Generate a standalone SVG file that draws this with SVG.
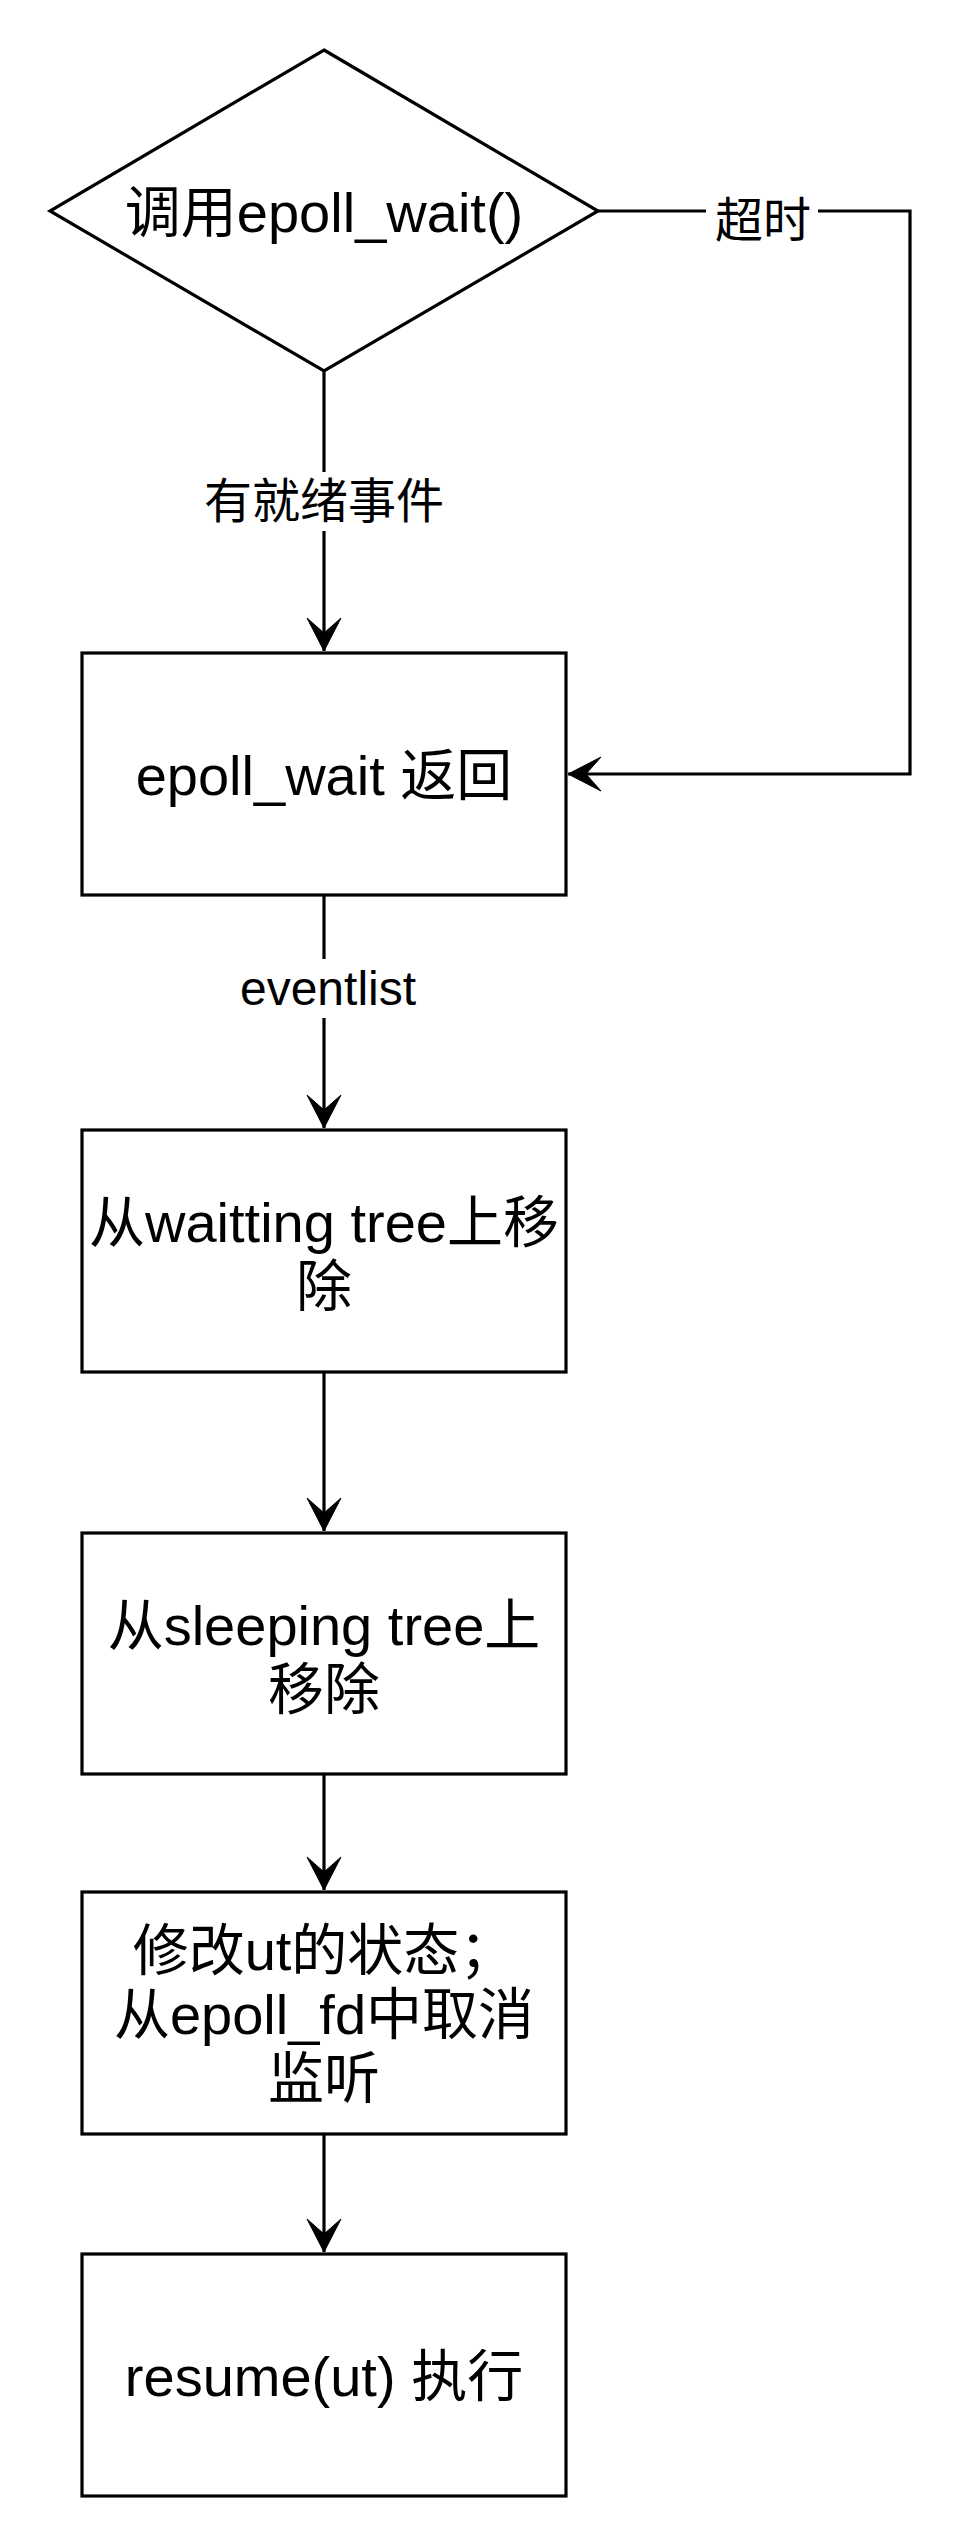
<svg xmlns="http://www.w3.org/2000/svg" width="976" height="2524" viewBox="0 0 976 2524">
  <style>
    .shape { fill: #ffffff; stroke: #000000; stroke-width: 3.2; }
    .edge { fill: none; stroke: #000000; stroke-width: 3.2; }
    .txt { font-family: "Liberation Sans", "Noto Sans CJK SC", sans-serif; font-size: 56px; fill: #000000; text-anchor: middle; }
    .lbl { font-family: "Liberation Sans", "Noto Sans CJK SC", sans-serif; font-size: 48px; fill: #000000; text-anchor: middle; }
    .lblbg { fill: #ffffff; stroke: none; }
  </style>
  <defs>
    <marker id="arrow" markerUnits="userSpaceOnUse" viewBox="-34 -18 36 36" refX="0" refY="0" markerWidth="36" markerHeight="36" orient="auto">
      <path d="M0,0 L-33,-17 L-18,0 L-33,17 Z" fill="#000000" stroke="#000000" stroke-width="1"/>
    </marker>
  </defs>
  <rect x="0" y="0" width="976" height="2524" fill="#ffffff"/>

  <g id="connectors">
    <g id="edge-ready">
      <path class="edge" d="M324,371 L324,651" marker-end="url(#arrow)"/>
      <rect class="lblbg" x="202" y="472" width="244" height="59"/>
      <text class="lbl" x="324" y="518">有就绪事件</text>
    </g>
    <g id="edge-timeout">
      <path class="edge" d="M598,211 L910,211 L910,774 L568,774" marker-end="url(#arrow)"/>
      <rect class="lblbg" x="706" y="190" width="112" height="50"/>
      <text class="lbl" x="763" y="237">超时</text>
    </g>
    <g id="edge-eventlist">
      <path class="edge" d="M324,895 L324,1128" marker-end="url(#arrow)"/>
      <rect class="lblbg" x="234" y="959" width="188" height="59"/>
      <text class="lbl" x="328" y="1005">eventlist</text>
    </g>
    <path class="edge" d="M324,1372 L324,1531" marker-end="url(#arrow)"/>
    <path class="edge" d="M324,1774 L324,1890" marker-end="url(#arrow)"/>
    <path class="edge" d="M324,2134 L324,2252" marker-end="url(#arrow)"/>
  </g>

  <g id="node-call">
    <polygon class="shape" points="324,50 598,211 324,371 50,211"/>
    <text class="txt" x="324" y="232">调用epoll_wait()</text>
  </g>

  <g id="node-return">
    <rect class="shape" x="82" y="653" width="484" height="242"/>
    <text class="txt" x="324" y="795">epoll_wait 返回</text>
  </g>

  <g id="node-waitting">
    <rect class="shape" x="82" y="1130" width="484" height="242"/>
    <text class="txt" x="324" y="1242">从waitting tree上移</text>
    <text class="txt" x="324" y="1306">除</text>
  </g>

  <g id="node-sleeping">
    <rect class="shape" x="82" y="1533" width="484" height="241"/>
    <text class="txt" x="324" y="1645">从sleeping tree上</text>
    <text class="txt" x="324" y="1709">移除</text>
  </g>

  <g id="node-modify">
    <rect class="shape" x="82" y="1892" width="484" height="242"/>
    <text class="txt" x="324" y="1970">修改ut的状态；</text>
    <text class="txt" x="324" y="2034">从epoll_fd中取消</text>
    <text class="txt" x="324" y="2098">监听</text>
  </g>

  <g id="node-resume">
    <rect class="shape" x="82" y="2254" width="484" height="242"/>
    <text class="txt" x="324" y="2396">resume(ut) 执行</text>
  </g>
</svg>
